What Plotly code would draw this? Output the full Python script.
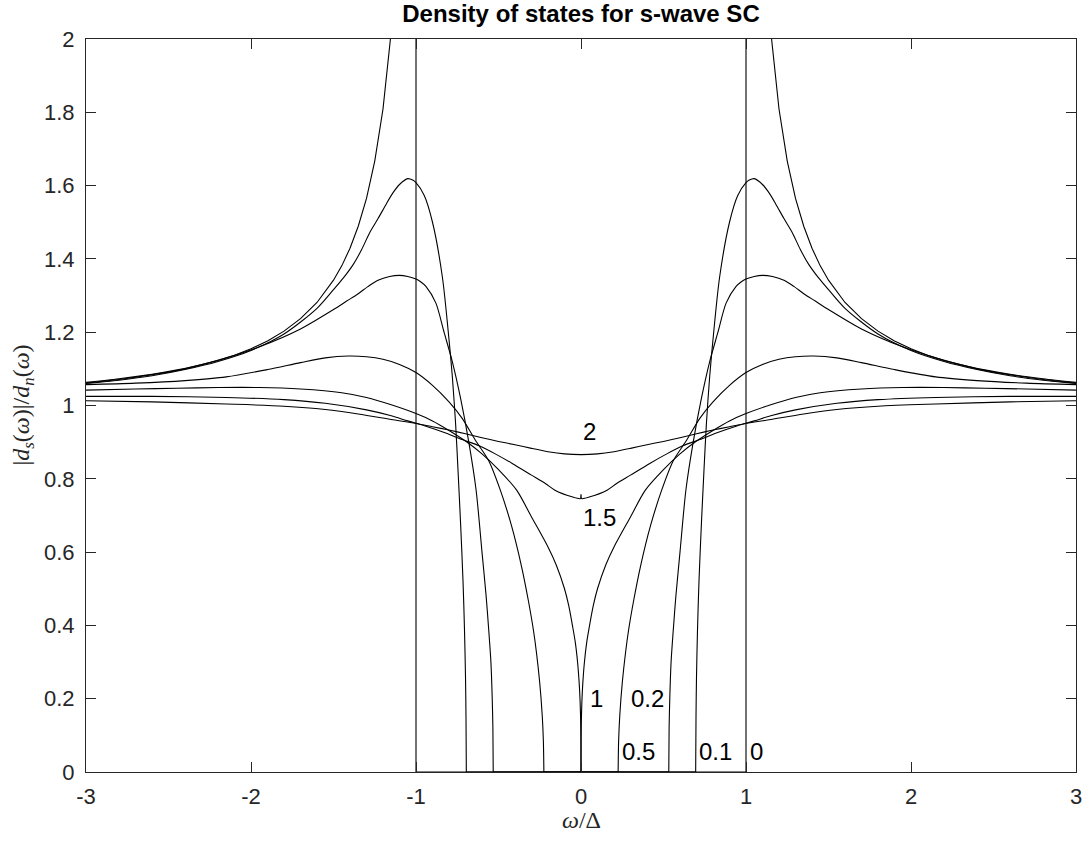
import plotly.graph_objects as go

# ---- data (omega >= 0 half; curves are symmetric in omega) ----
# zeta = 0 (BCS)
omega_z0 = [0, 1.0, 1.0, 1.02, 1.05, 1.1, 1.12, 1.155, 1.2, 1.25, 1.3, 1.35, 1.4, 1.45, 1.5,
            1.6, 1.7, 1.8, 1.9, 2.0, 2.1, 2.2, 2.3, 2.4, 2.5, 2.6, 2.7, 2.8, 2.9, 3.0]
dos_z0 = [0, 0, 30, 5.07, 3.28, 2.40, 2.22, 2.0, 1.809, 1.667, 1.565, 1.489, 1.429, 1.381, 1.342,
          1.281, 1.237, 1.203, 1.176, 1.155, 1.137, 1.123, 1.111, 1.100, 1.091, 1.083, 1.077, 1.071, 1.065, 1.061]

# zeta = 0.1
omega_z01 = [0, 0.695, 0.697, 0.70, 0.706, 0.715, 0.73, 0.745, 0.76, 0.78, 0.80, 0.84, 0.90, 0.95,
             1.0, 1.02, 1.05, 1.10, 1.14, 1.18, 1.23, 1.28, 1.33, 1.38, 1.44, 1.5, 1.6, 1.8, 2.0,
             2.2, 2.4, 2.6, 2.8, 3.0]
dos_z01 = [0, 0, 0.15, 0.26, 0.386, 0.52, 0.68, 0.82, 0.95, 1.08, 1.18, 1.35, 1.50, 1.573,
           1.608, 1.615, 1.619, 1.603, 1.580, 1.550, 1.510, 1.472, 1.425, 1.385, 1.348, 1.316, 1.265,
           1.195, 1.150, 1.120, 1.098, 1.081, 1.069, 1.060]

# zeta = 0.2
omega_z02 = [0, 0.532, 0.534, 0.538, 0.546, 0.559, 0.575, 0.60, 0.636, 0.68, 0.73, 0.78, 0.83, 0.88,
             0.94, 0.97, 1.0, 1.05, 1.1, 1.16, 1.23, 1.29, 1.35, 1.42, 1.5, 1.7, 1.95, 2.15, 2.35,
             2.6, 2.8, 3.0]
dos_z02 = [0, 0, 0.12, 0.2, 0.3, 0.386, 0.48, 0.6, 0.77, 0.90, 1.02, 1.12, 1.20, 1.28,
           1.325, 1.337, 1.345, 1.352, 1.355, 1.352, 1.342, 1.325, 1.305, 1.285, 1.262, 1.209,
           1.160, 1.130, 1.106, 1.085, 1.073, 1.063]

# zeta = 0.5
omega_z05 = [0, 0.225, 0.228, 0.235, 0.25, 0.27, 0.288, 0.32, 0.36, 0.42, 0.489, 0.56, 0.64, 0.72,
             0.80, 0.90, 1.0, 1.1, 1.2, 1.3, 1.41, 1.55, 1.7, 1.9, 2.15, 2.4, 2.7, 3.0]
dos_z05 = [0, 0, 0.084, 0.154, 0.243, 0.326, 0.386, 0.47, 0.56, 0.67, 0.769, 0.85, 0.905, 0.965,
           1.01, 1.055, 1.09, 1.112, 1.126, 1.133, 1.135, 1.130, 1.117, 1.098, 1.078, 1.068, 1.061, 1.057]

# zeta = 1
omega_z1 = [0, 0.0005, 0.002, 0.005, 0.01, 0.02, 0.035, 0.05, 0.075, 0.1, 0.15, 0.2, 0.3, 0.39,
            0.5, 0.6, 0.7, 0.8, 0.9, 1.0, 1.15, 1.3, 1.45, 1.7, 1.95, 2.2, 2.45, 2.7, 3.0]
dos_z1 = [0, 0.087, 0.137, 0.187, 0.235, 0.296, 0.355, 0.395, 0.455, 0.50, 0.565, 0.614, 0.696, 0.769,
          0.825, 0.868, 0.903, 0.932, 0.958, 0.978, 1.002, 1.022, 1.035, 1.045, 1.049, 1.049, 1.047, 1.045, 1.042]

# zeta = 1.5
omega_z15 = [0, 0.004, 0.055, 0.158, 0.216, 0.3, 0.417, 0.52, 0.617, 0.72, 0.82, 0.949, 1.05,
             1.15, 1.3, 1.55, 1.8, 2.15, 2.6, 3.0]
dos_z15 = [0.757, 0.746, 0.751, 0.769, 0.787, 0.81, 0.842, 0.868, 0.89, 0.907, 0.925, 0.945, 0.958,
           0.972, 0.988, 1.006, 1.016, 1.022, 1.025, 1.025]

# zeta = 2
omega_z2 = [0, 0.1, 0.2, 0.3, 0.4, 0.5, 0.6, 0.7, 0.8, 0.9, 1.0, 1.15, 1.35, 1.55, 1.8, 2.15, 2.6, 3.0]
dos_z2 = [0.866, 0.868, 0.874, 0.883, 0.893, 0.902, 0.912, 0.923, 0.933, 0.942, 0.951, 0.962, 0.977,
          0.989, 0.998, 1.004, 1.010, 1.013]

# curve labels
label_text = ["2", "1.5", "1", "0.2", "0.5", "0.1", "0"]
label_x = [0.0, 0.0, 0.04, 0.29, 0.235, 0.70, 1.01]
label_y = [0.93, 0.695, 0.2, 0.2, 0.055, 0.055, 0.055]

# axis ticks
x_tickvals = [-3, -2, -1, 0, 1, 2, 3]
x_ticktext = ["-3", "-2", "-1", "0", "1", "2", "3"]
y_tickvals = [0, 0.2, 0.4, 0.6, 0.8, 1.0, 1.2, 1.4, 1.6, 1.8, 2.0]
y_ticktext = ["0", "0.2", "0.4", "0.6", "0.8", "1", "1.2", "1.4", "1.6", "1.8", "2"]


def pieces(xs, ys, smooth=True):
    """Split a half-curve into drawable pieces, reflected to negative omega."""
    if not smooth:
        fx = [-v for v in reversed(xs[1:])] + list(xs)
        fy = list(reversed(ys[1:])) + list(ys)
        return [(fx, fy, "linear")]
    if ys[0] != 0:
        fx = [-v for v in reversed(xs[1:])] + list(xs)
        fy = list(reversed(ys[1:])) + list(ys)
        return [(fx, fy, "spline")]
    k = max(i for i, v in enumerate(ys) if v == 0)
    out = []
    rx, ry = list(xs[k:]), list(ys[k:])
    lx, ly = [-v for v in reversed(rx)], list(reversed(ry))
    out.append((lx, ly, "spline"))
    out.append((rx, ry, "spline"))
    if k > 0:
        fx = [-v for v in reversed(xs[1:k + 1])] + list(xs[:k + 1])
        fy = list(reversed(ys[1:k + 1])) + list(ys[:k + 1])
        out.append((fx, fy, "linear"))
    return out


curves = [(omega_z0, dos_z0, False), (omega_z01, dos_z01, True),
          (omega_z02, dos_z02, True), (omega_z05, dos_z05, True),
          (omega_z1, dos_z1, True), (omega_z15, dos_z15, True),
          (omega_z2, dos_z2, True)]

fig = go.Figure()
for xs, ys, smooth in curves:
    for fx, fy, shape in pieces(xs, ys, smooth):
        line = dict(color="black", width=1.1, shape=shape)
        if shape == "spline":
            line["smoothing"] = 0.8
        fig.add_trace(go.Scatter(x=fx, y=fy, mode="lines", line=line, showlegend=False,
                                 hoverinfo="skip"))

axcol = "#262626"
tickfont = dict(family="Liberation Sans, Arial, sans-serif", size=22, color=axcol)

fig.update_layout(
    width=1089, height=841,
    margin=dict(l=86, r=7, t=39, b=69),
    paper_bgcolor="white", plot_bgcolor="white",
    title=dict(text="<b>Density of states for s-wave SC</b>", x=0.5, xref="paper", xanchor="center",
               y=1 - 14 / 841, yref="container", yanchor="middle",
               font=dict(family="Liberation Sans, Arial, sans-serif", size=24, color="black")),
)
fig.update_xaxes(range=[-3, 3], tickvals=x_tickvals, ticktext=x_ticktext, ticks="inside", ticklen=10,
                 tickwidth=1, tickcolor=axcol, showline=True, linecolor=axcol, linewidth=1,
                 mirror="ticks", showgrid=False, zeroline=False, tickfont=tickfont,
                 ticklabelstandoff=5)
fig.update_yaxes(range=[0, 2], tickvals=y_tickvals, ticktext=y_ticktext, ticks="inside", ticklen=10,
                 tickwidth=1, tickcolor=axcol, showline=True, linecolor=axcol, linewidth=1,
                 mirror="ticks", showgrid=False, zeroline=False, tickfont=tickfont,
                 ticklabelstandoff=6)

for t, x, y in zip(label_text, label_x, label_y):
    fig.add_annotation(x=x, y=y, xref="x", yref="y", text=t, showarrow=False,
                       xanchor="left", yanchor="middle",
                       font=dict(family="Liberation Sans, Arial, sans-serif", size=24, color="black"))

serif = "Liberation Serif, Times New Roman, serif"
fig.add_annotation(x=0.5, y=0, xref="paper", yref="paper", yshift=-48, xanchor="center",
                   yanchor="middle", showarrow=False,
                   text="<i>ω</i>/Δ", font=dict(family=serif, size=24, color=axcol))
fig.add_annotation(x=0, y=0.5, xref="paper", yref="paper", xshift=-64, xanchor="center",
                   yanchor="middle", showarrow=False, textangle=-90,
                   text="|<i>d</i><sub><i>s</i></sub>(<i>ω</i>)|/<i>d</i><sub><i>n</i></sub>(<i>ω</i>)",
                   font=dict(family=serif, size=24, color=axcol))

fig.write_html("out.html")
